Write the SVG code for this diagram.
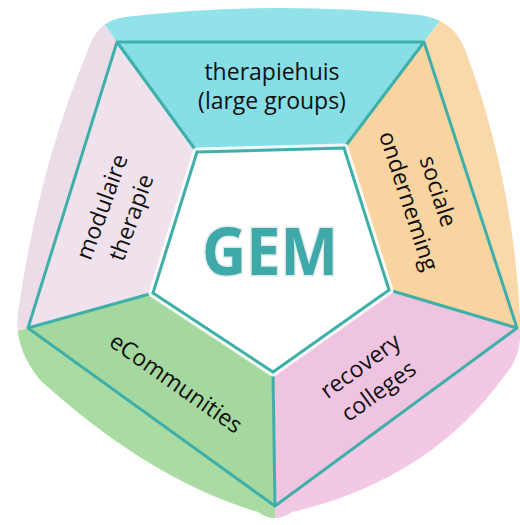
<svg xmlns="http://www.w3.org/2000/svg" width="520" height="525" viewBox="0 0 520 525">
  <style>
    .lbl { font-family: "Open Sans", "Liberation Sans", sans-serif; font-size: 23px; fill: #111; text-anchor: middle; }
    .edge { fill: none; stroke: #3fb0a9; stroke-width: 3; stroke-linejoin: round; }
  </style>
  <defs>
    <clipPath id="sil">
      <path d="M 20,300 C 14,330 18,352 40,380 Q 150,480 258,512 Q 275,524 292,512 Q 430,480 505,375 C 518,360 522,345 520,315 Q 512,175 466,52 C 458,32 448,20 420,15 Q 270,0 125,17 C 105,20 95,30 88,50 Q 40,165 20,300 Z"/>
    </clipPath>
  </defs>
  <rect width="520" height="525" fill="#ffffff"/>

  <g id="bands" clip-path="url(#sil)">
    <polygon points="197,152 344,148 584,-170 -43,-178" fill="#92e2e9"/>
    <polygon points="344,148 389,290 773,404 584,-170" fill="#f9d8aa"/>
    <polygon points="389,290 273,372 279,774 773,404" fill="#f2c8e4"/>
    <polygon points="273,372 153,293 -222,398 279,774" fill="#a9dba3"/>
    <polygon points="153,293 197,152 -43,-178 -222,398" fill="#ecdce8"/>
  </g>

  <g id="therapiehuis">
    <polygon points="117,42 424,42 344,148 197,152" fill="#88dee5"/>
    <text class="lbl" x="272" y="80">therapiehuis</text>
    <text class="lbl" x="272" y="109">(large groups)</text>
  </g>
  <g id="sociale-onderneming">
    <polygon points="424,42 517,328 389,290 344,148" fill="#f8d4a0"/>
    <g transform="translate(424,196) rotate(72)">
      <text class="lbl" x="0" y="-7">sociale</text>
      <text class="lbl" x="0" y="24">onderneming</text>
    </g>
  </g>
  <g id="recovery-colleges">
    <polygon points="517,328 275,506 273,372 389,290" fill="#efc4e1"/>
    <g transform="translate(369,378) rotate(-36)">
      <text class="lbl" x="0" y="-7">recovery</text>
      <text class="lbl" x="0" y="24">colleges</text>
    </g>
  </g>
  <g id="ecommunities">
    <polygon points="275,506 28,328 153,293 273,372" fill="#a4d89e"/>
    <g transform="translate(176,383) rotate(35)">
      <text class="lbl" x="0" y="8">eCommunities</text>
    </g>
  </g>
  <g id="modulaire-therapie">
    <polygon points="28,328 117,42 197,152 153,293" fill="#efe2ec"/>
    <g transform="translate(116,212) rotate(-70)">
      <text class="lbl" x="0" y="-7">modulaire</text>
      <text class="lbl" x="0" y="24">therapie</text>
    </g>
  </g>

  <g id="connectors">
    <polygon points="117,42 424,42 517,328 275,506 28,328" class="edge"/>
    <line x1="117" y1="42" x2="197" y2="152" class="edge"/>
    <line x1="424" y1="42" x2="344" y2="148" class="edge"/>
    <line x1="517" y1="328" x2="389" y2="290" class="edge"/>
    <line x1="275" y1="506" x2="273" y2="372" class="edge"/>
    <line x1="28" y1="328" x2="153" y2="293" class="edge"/>
    <polygon points="197,152 344,148 389,290 273,372 153,293" fill="#ffffff" stroke="#ffffff" stroke-width="9" stroke-linejoin="round" opacity="0.85"/>
    <polygon points="197,152 344,148 389,290 273,372 153,293" class="edge" style="fill:#ffffff" stroke-width="2.5"/>
  </g>

  <g id="gem">
    <text x="270" y="275" textLength="136" lengthAdjust="spacingAndGlyphs" font-family="'Open Sans', 'Liberation Sans', sans-serif" font-weight="bold" font-size="67" fill="#3ea9a8" stroke="#dfe9e9" stroke-width="3" paint-order="stroke" text-anchor="middle">GEM</text>
  </g>
</svg>
